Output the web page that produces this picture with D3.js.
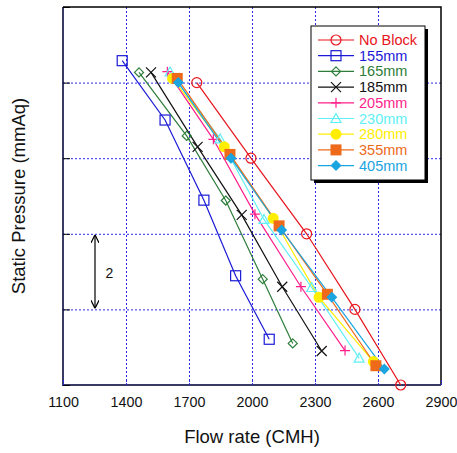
<!DOCTYPE html>
<html>
<head>
<meta charset="utf-8">
<script src="https://cdn.jsdelivr.net/npm/d3@7"></script>
<style>
  body { margin: 0; background: #fff; }
  text { font-family: "Liberation Sans", Arial, sans-serif; }
</style>
</head>
<body>
<script>
// chart size
const width = 457;
const height = 453;
const margin = { top: 7, right: 16, bottom: 68, left: 63 };

// data
const seriesNames = ["No Block", "155mm", "165mm", "185mm", "205mm", "230mm", "280mm", "355mm", "405mm"];
const seriesColors = ["#e8141c", "#1a1ad6", "#2e7d3a", "#111111", "#ff1e8c", "#5ef0f5", "#ffee00", "#ee6a1a", "#1aa4e0"];
const seriesSymbols = ["circle", "square", "diamondOpen", "cross", "plus", "triangle", "dot", "squareFill", "diamondFill"];

const noBlock = [[1737, 8.0], [1995, 6.0], [2260, 4.0], [2490, 2.0], [2708, 0.0]];
const mm155 = [[1382, 8.58], [1586, 7.01], [1771, 4.89], [1922, 2.89], [2082, 1.21]];
const mm165 = [[1462, 8.27], [1689, 6.59], [1875, 4.88], [2051, 2.80], [2194, 1.10]];
const mm185 = [[1519, 8.27], [1741, 6.30], [1951, 4.50], [2144, 2.60], [2332, 0.90]];
const mm205 = [[1597, 8.29], [1816, 6.50], [2014, 4.52], [2233, 2.60], [2443, 0.91]];
const mm230 = [[1610, 8.28], [1848, 6.51], [2057, 4.38], [2284, 2.58], [2510, 0.71]];
const mm280 = [[1622, 8.11], [1868, 6.30], [2101, 4.41], [2319, 2.32], [2578, 0.62]];
const mm355 = [[1644, 8.11], [1895, 6.10], [2129, 4.21], [2359, 2.40], [2590, 0.51]];
const mm405 = [[1649, 8.00], [1900, 6.00], [2141, 4.10], [2380, 2.32], [2630, 0.42]];
const seriesValues = [noBlock, mm155, mm165, mm185, mm205, mm230, mm280, mm355, mm405];

const xTicks = [1100, 1400, 1700, 2000, 2300, 2600, 2900];
const yTicks = [0, 2, 4, 6, 8, 10];

const series = seriesNames.map((name, i) => ({
  name, color: seriesColors[i], symbol: seriesSymbols[i], values: seriesValues[i]
}));

const svg = d3.select('body')
              .append('svg')
              .attr('width', width)
              .attr('height', height);

const x = d3.scaleLinear()
            .domain([1100, 2900])
            .range([margin.left, width - margin.right]);

const y = d3.scaleLinear()
            .domain([0, 10])
            .range([height - margin.bottom, margin.top]);

// grid
const grid = svg.append('g')
  .attr('stroke', '#2a2ae6')
  .attr('stroke-width', 1)
  .attr('stroke-dasharray', '2,2');
grid.selectAll('.vg')
  .data(xTicks.slice(1, -1))
  .enter().append('line')
  .attr('x1', d => x(d) + 0.5).attr('x2', d => x(d) + 0.5)
  .attr('y1', y(10)).attr('y2', y(0));
grid.selectAll('.hg')
  .data(yTicks.slice(1, -1))
  .enter().append('line')
  .attr('x1', x(1100)).attr('x2', x(2900))
  .attr('y1', d => y(d) + 0.5).attr('y2', d => y(d) + 0.5);

// frame: top and right black, left and bottom darker dotted look
svg.append('path')
  .attr('d', `M${x(1100)},${y(10)}H${x(2900)}V${y(0)}`)
  .attr('fill', 'none').attr('stroke', '#000').attr('stroke-width', 1.5);
svg.append('path')
  .attr('d', `M${x(1100)},${y(10)}V${y(0)}H${x(2900)}`)
  .attr('fill', 'none').attr('stroke', '#3a3a66').attr('stroke-width', 2);

// bottom axis
svg.append('g')
   .attr('transform', `translate(0, ${y(0)})`)
   .call(d3.axisBottom(x).tickValues(xTicks).tickSize(-6).tickFormat(d3.format('d')))
   .call(g => g.select('.domain').remove())
   .call(g => g.selectAll('.tick line').attr('stroke', '#2a2ae6').attr('stroke-dasharray', '2,1'))
   .call(g => g.selectAll('.tick text').attr('y', 21.5).attr('dy', null)
     .attr('font-size', 14.3).attr('fill', '#111')
     .attr('font-family', '"Liberation Sans", Arial, sans-serif'));

// left axis
svg.append('g')
   .attr('transform', `translate(${x(1100)}, 0)`)
   .call(d3.axisLeft(y).tickValues(yTicks).tickSize(-7).tickFormat(''))
   .call(g => g.select('.domain').remove())
   .call(g => g.selectAll('.tick line').attr('stroke', '#000'));

// axis titles
svg.append('text')
  .attr('x', (x(1100) + x(2900)) / 2)
  .attr('y', 443)
  .attr('text-anchor', 'middle')
  .attr('font-size', 18.5)
  .attr('fill', '#111')
  .text('Flow rate (CMH)');

svg.append('text')
  .attr('transform', `translate(25, ${(y(0) + y(10)) / 2}) rotate(-90)`)
  .attr('text-anchor', 'middle')
  .attr('font-size', 18.5)
  .attr('fill', '#111')
  .text('Static Pressure (mmAq)');

// 2 mmAq annotation
svg.append('defs').append('marker')
  .attr('id', 'arr')
  .attr('viewBox', '0 0 10 10')
  .attr('refX', 10).attr('refY', 5)
  .attr('markerWidth', 7).attr('markerHeight', 7)
  .attr('orient', 'auto-start-reverse')
  .append('path')
  .attr('d', 'M0,0 L10,5 L0,10')
  .attr('fill', 'none').attr('stroke', '#000').attr('stroke-width', 1.5);

svg.append('line')
  .attr('x1', 95).attr('x2', 95)
  .attr('y1', y(4) + 1).attr('y2', y(2) - 1)
  .attr('stroke', '#000').attr('stroke-width', 1.2)
  .attr('marker-start', 'url(#arr)').attr('marker-end', 'url(#arr)');

svg.append('text')
  .attr('x', 105.5).attr('y', y(3) + 6)
  .attr('font-size', 14)
  .attr('fill', '#111')
  .text('2');

// markers
function drawSymbol(g, sym, color, cx, cy) {
  if (sym === 'circle') {
    g.append('circle').attr('cx', cx).attr('cy', cy).attr('r', 5)
      .attr('fill', 'none').attr('stroke', color).attr('stroke-width', 1.2);
  } else if (sym === 'square') {
    g.append('rect').attr('x', cx - 5).attr('y', cy - 5).attr('width', 10).attr('height', 10)
      .attr('fill', 'none').attr('stroke', color).attr('stroke-width', 1.2);
  } else if (sym === 'diamondOpen') {
    g.append('path').attr('d', `M${cx},${cy - 4.5}L${cx + 4.5},${cy}L${cx},${cy + 4.5}L${cx - 4.5},${cy}Z`)
      .attr('fill', 'none').attr('stroke', color).attr('stroke-width', 1.2);
  } else if (sym === 'cross') {
    g.append('path').attr('d', `M${cx - 5},${cy - 5}L${cx + 5},${cy + 5}M${cx - 5},${cy + 5}L${cx + 5},${cy - 5}`)
      .attr('stroke', color).attr('stroke-width', 1.2);
  } else if (sym === 'plus') {
    g.append('path').attr('d', `M${cx - 5},${cy}L${cx + 5},${cy}M${cx},${cy - 5}L${cx},${cy + 5}`)
      .attr('stroke', color).attr('stroke-width', 1.2);
  } else if (sym === 'triangle') {
    g.append('path').attr('d', `M${cx},${cy - 5}L${cx + 5},${cy + 4}L${cx - 5},${cy + 4}Z`)
      .attr('fill', 'none').attr('stroke', color).attr('stroke-width', 1.2);
  } else if (sym === 'dot') {
    g.append('circle').attr('cx', cx).attr('cy', cy).attr('r', 5.5).attr('fill', color);
  } else if (sym === 'squareFill') {
    g.append('rect').attr('x', cx - 5.5).attr('y', cy - 5.5).attr('width', 11).attr('height', 11).attr('fill', color);
  } else if (sym === 'diamondFill') {
    g.append('path').attr('d', `M${cx},${cy - 5.5}L${cx + 5.5},${cy}L${cx},${cy + 5.5}L${cx - 5.5},${cy}Z`)
      .attr('fill', color);
  }
}

const line = d3.line().x(d => x(d[0])).y(d => y(d[1]));

series.forEach(s => {
  svg.append('path')
    .datum(s.values)
    .attr('d', line)
    .attr('fill', 'none')
    .attr('stroke', s.color)
    .attr('stroke-width', 1.2);
});
series.forEach(s => {
  const g = svg.append('g');
  s.values.forEach(d => drawSymbol(g, s.symbol, s.color, x(d[0]), y(d[1])));
});

// legend
const lg = svg.append('g').attr('transform', 'translate(311, 26)');
lg.append('rect').attr('x', 3).attr('y', 3).attr('width', 114).attr('height', 154).attr('fill', '#000');
lg.append('rect').attr('x', 0).attr('y', 0).attr('width', 114).attr('height', 154)
  .attr('fill', '#fff').attr('stroke', '#000').attr('stroke-width', 1);
series.forEach((s, i) => {
  const ly = 14 + i * 15.7;
  const row = lg.append('g');
  row.append('line').attr('x1', 7).attr('x2', 43).attr('y1', ly).attr('y2', ly)
    .attr('stroke', s.color).attr('stroke-width', 1.2);
  drawSymbol(row, s.symbol, s.color, 25, ly);
  row.append('text').attr('x', 48).attr('y', ly + 5)
    .attr('font-size', 14.5).attr('fill', s.color).text(s.name);
});
</script>
</body>
</html>
